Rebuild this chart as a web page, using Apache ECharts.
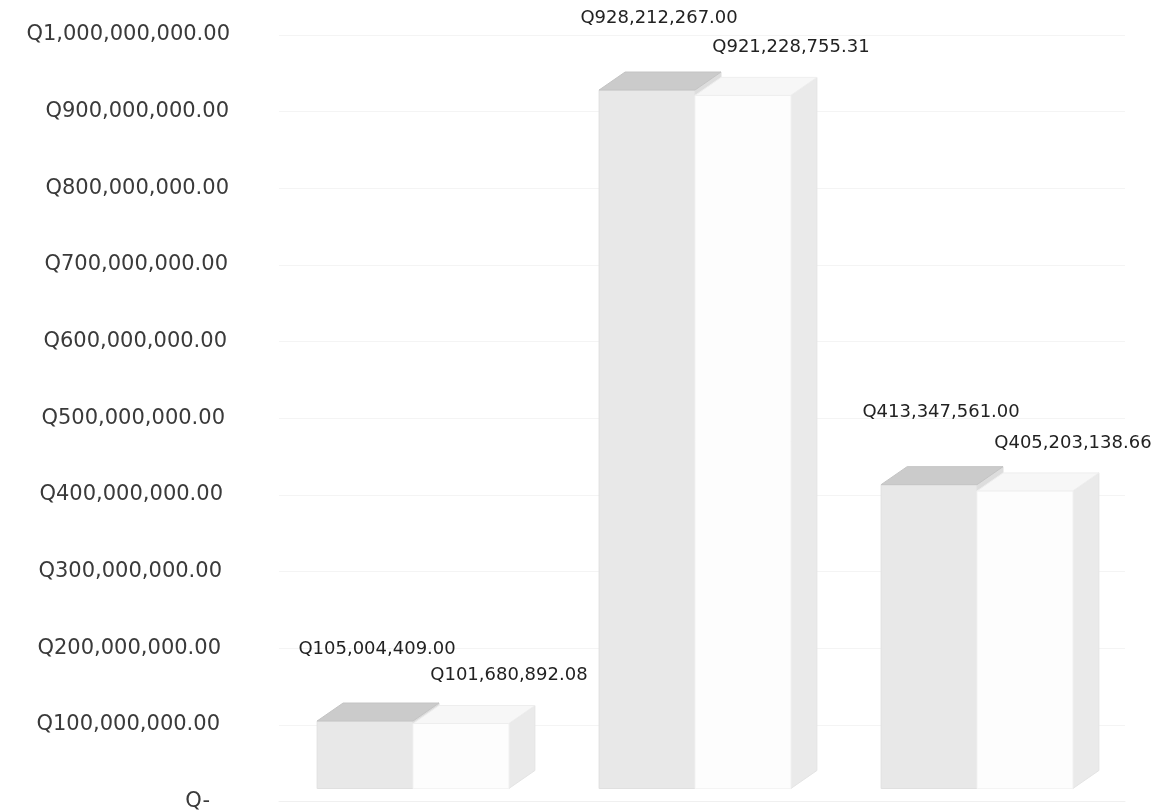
<!DOCTYPE html>
<html>
<head>
<meta charset="utf-8">
<script src="https://cdn.jsdelivr.net/npm/echarts@6/dist/echarts.min.js"></script>
<style>
html,body{margin:0;padding:0;background:#ffffff;}
#chart{width:1161px;height:812px;}
</style>
</head>
<body>
<div id="chart"></div>
<script>
const categories = ['1', '2', '3'];
const series1 = [105004409.00, 928212267.00, 413347561.00];
const series2 = [101680892.08, 921228755.31, 405203138.66];
const yMin = 0;
const yMax = 1000000000;
const yInterval = 100000000;

function fmtQ(v) {
  if (v === 0) return 'Q-';
  return 'Q' + v.toLocaleString('en-US', {minimumFractionDigits: 2, maximumFractionDigits: 2});
}

const FONT = '"DejaVu Sans", sans-serif';

// perspective-like right padding of y labels (bottom to top)
const labelPad = [20, 10, 9, 8, 7, 5, 3, 2, 1, 1, 0];
const rich = {};
labelPad.forEach(function (p, i) {
  rich['p' + i] = {padding: [0, p, 0, 0], fontSize: 21, fontFamily: FONT, color: '#3a3a3a'};
});

function makeRender(idx, colors, labelDx, labelDy) {
  return function (params, api) {
    const v = api.value(1);
    const c = api.coord([api.value(0), v]);
    const base = api.coord([api.value(0), 0]);
    const band = api.size([1, 0])[0];
    const w = band * 0.34;
    const x0 = c[0] - 7 + (idx === 0 ? -w : 0);
    const x1 = x0 + w;
    const yt = c[1];
    const yb = base[1] - 13;
    const dx = 26, dy = -18;
    return {
      type: 'group',
      children: [
        {type: 'polygon', shape: {points: [[x1, yt], [x1 + dx, yt + dy], [x1 + dx, yb + dy], [x1, yb]]},
          style: {fill: colors.side, stroke: colors.sideStroke, lineWidth: 1}},
        {type: 'rect', shape: {x: x0, y: yt, width: w, height: yb - yt},
          style: {fill: colors.front, stroke: colors.frontStroke, lineWidth: 1}},
        {type: 'polygon', shape: {points: [[x0, yt], [x0 + dx, yt + dy], [x1 + dx, yt + dy], [x1, yt]]},
          style: {fill: colors.top, stroke: colors.topStroke, lineWidth: 1}},
        {type: 'text', style: {text: fmtQ(v), x: x0 + w / 2 + labelDx, y: yt + labelDy,
          align: 'center', verticalAlign: 'middle', fontSize: 18, fontFamily: FONT, fill: '#222222'}}
      ]
    };
  };
}

const chart = echarts.init(document.getElementById('chart'), null, {renderer: 'canvas'});
chart.setOption({
  backgroundColor: '#ffffff',
  animation: false,
  grid: {left: 279, right: 36, top: 35, bottom: 5, containLabel: false},
  xAxis: {
    type: 'category',
    data: categories,
    axisLabel: {show: false},
    axisTick: {show: false},
    axisLine: {show: true, lineStyle: {color: '#f0f0f0'}}
  },
  yAxis: {
    type: 'value',
    min: yMin,
    max: yMax,
    interval: yInterval,
    axisLine: {show: false},
    axisTick: {show: false},
    splitLine: {show: true, lineStyle: {color: '#f4f4f4'}},
    axisLabel: {
      margin: 49,
      fontSize: 21,
      fontFamily: FONT,
      color: '#3a3a3a',
      formatter: function (v, i) { return '{p' + i + '|' + fmtQ(v) + '}'; },
      rich: rich
    }
  },
  series: [
    {
      type: 'custom',
      data: series1.map((v, i) => [i, v]),
      renderItem: makeRender(0, {front: '#e8e8e8', frontStroke: '#e0e0e0', top: '#cbcbcb', topStroke: '#c4c4c4', side: '#dddddd', sideStroke: '#dddddd'}, 12, -72),
      z: 2
    },
    {
      type: 'custom',
      data: series2.map((v, i) => [i, v]),
      renderItem: makeRender(1, {front: '#fdfdfd', frontStroke: '#f4f4f4', top: '#f7f7f7', topStroke: '#eeeeee', side: '#eaeaea', sideStroke: '#e4e4e4'}, 48, -48),
      z: 3
    }
  ]
});
</script>
</body>
</html>
